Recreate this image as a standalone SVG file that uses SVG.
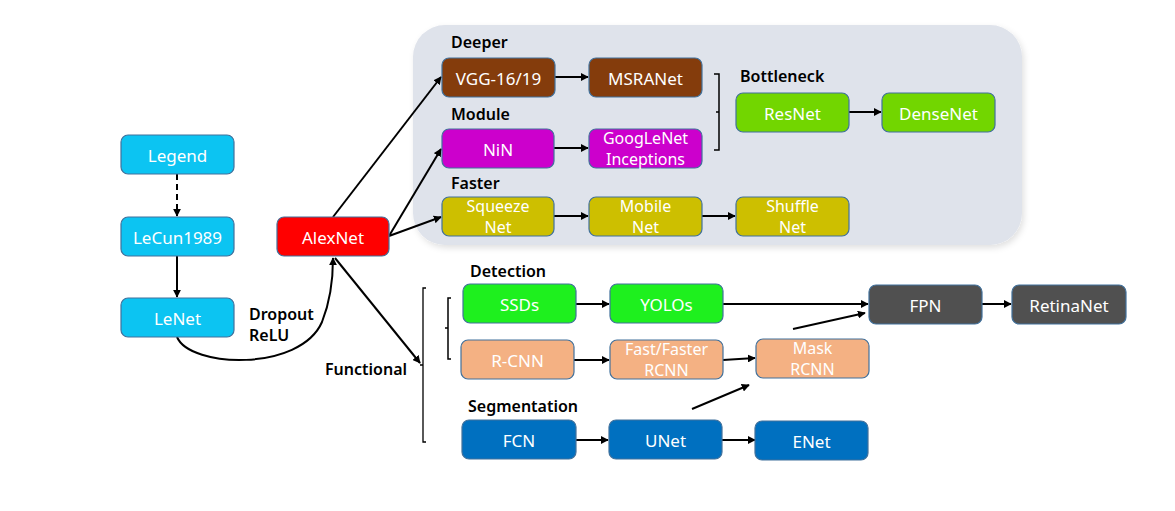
<svg xmlns="http://www.w3.org/2000/svg" width="1175" height="511" viewBox="0 0 1175 511">
<defs>
<marker id="ah" viewBox="0 0 10 10" refX="9" refY="5" markerWidth="8" markerHeight="8" markerUnits="userSpaceOnUse" orient="auto"><path d="M0,0 L10,5 L0,10 z" fill="#000"/></marker>
<filter id="sh" x="-5%" y="-5%" width="110%" height="115%"><feDropShadow dx="2" dy="3" stdDeviation="3" flood-color="#000" flood-opacity="0.12"/></filter>
<style>
.n{stroke:#41719c;stroke-width:1.2}
.t{font-family:"Noto Sans","Liberation Sans",sans-serif;font-size:17px;fill:#fff;text-anchor:middle;dominant-baseline:central}
.t2{font-size:16px}
.l{font-family:"Noto Sans","Liberation Sans",sans-serif;font-size:16px;font-weight:600;fill:#000}
.c{fill:none;stroke:#000;stroke-width:2}
.a{marker-end:url(#ah)}
</style>
</defs>
<rect width="1175" height="511" fill="#fff"/>
<rect id="panel" x="413" y="25" width="609" height="220" rx="32" fill="#dfe3eb" filter="url(#sh)"/>
<g id="labels">
<text class="l" x="451" y="48">Deeper</text>
<text class="l" x="451" y="120">Module</text>
<text class="l" x="451" y="189">Faster</text>
<text class="l" x="740" y="82">Bottleneck</text>
<text class="l" x="470" y="277">Detection</text>
<text class="l" x="468" y="412">Segmentation</text>
<text class="l" x="325" y="375">Functional</text>
<text class="l" x="249" y="320">Dropout</text>
<text class="l" x="249" y="341">ReLU</text>
</g>
<g id="connectors">
<line class="c a" x1="177" y1="174" x2="177" y2="216" stroke-dasharray="6,4"/>
<line class="c a" x1="177" y1="256" x2="177" y2="297"/>
<path class="c a" d="M177,337 C190,368 300,372 322,322 C330,302 333,278 333,258"/>
<line class="c a" x1="333" y1="217" x2="441" y2="77"/>
<line class="c a" x1="389" y1="236" x2="441" y2="149"/>
<line class="c a" x1="389" y1="236" x2="441" y2="217"/>
<line class="c a" x1="335" y1="258" x2="420" y2="363"/>
<line class="c a" x1="555" y1="77" x2="588" y2="77"/>
<line class="c a" x1="554" y1="148" x2="588" y2="148"/>
<line class="c a" x1="554" y1="216" x2="588" y2="216"/>
<line class="c a" x1="702" y1="216" x2="735" y2="216"/>
<line class="c a" x1="849" y1="112" x2="881" y2="112"/>
<line class="c a" x1="576" y1="304" x2="609" y2="304"/>
<line class="c a" x1="723" y1="304" x2="868" y2="304"/>
<line class="c a" x1="574" y1="360" x2="609" y2="360"/>
<line class="c a" x1="723" y1="360" x2="755" y2="358"/>
<line class="c a" x1="793" y1="329" x2="865" y2="313"/>
<line class="c a" x1="692" y1="409" x2="749" y2="385"/>
<line class="c a" x1="576" y1="440" x2="608" y2="440"/>
<line class="c a" x1="722" y1="440" x2="755" y2="440"/>
<line class="c a" x1="982" y1="304" x2="1011" y2="304"/>
<path d="M714,74 H719 V150 H714 M719,112 H716" fill="none" stroke="#000" stroke-width="1.5"/>
<path d="M426,288 H423 V442 H426 M423,365 H420" fill="none" stroke="#000" stroke-width="1.3"/>
<path d="M451,298 H448 V359 H451 M448,328 H445" fill="none" stroke="#000" stroke-width="1.5"/>
</g>
<g id="legend"><rect class="n" x="121" y="135" width="113" height="39" rx="7" fill="#0cc4f2"/><text class="t" x="177.5" y="155">Legend</text></g>
<g id="lecun1989"><rect class="n" x="121" y="217" width="113" height="39" rx="7" fill="#0cc4f2"/><text class="t" x="177.5" y="237">LeCun1989</text></g>
<g id="lenet"><rect class="n" x="121" y="298" width="113" height="39" rx="7" fill="#0cc4f2"/><text class="t" x="177.5" y="318">LeNet</text></g>
<g id="alexnet"><rect class="n" x="277" y="217" width="112" height="39" rx="7" fill="#ff0000"/><text class="t" x="333" y="237">AlexNet</text></g>
<g id="vgg"><rect class="n" x="442" y="58" width="113" height="39" rx="7" fill="#843c0c"/><text class="t" x="498.5" y="78">VGG-16/19</text></g>
<g id="msranet"><rect class="n" x="589" y="58" width="113" height="39" rx="7" fill="#843c0c"/><text class="t" x="645.5" y="78">MSRANet</text></g>
<g id="nin"><rect class="n" x="442" y="129" width="112" height="39" rx="7" fill="#cc00cc"/><text class="t" x="498" y="149">NiN</text></g>
<g id="googlenet"><rect class="n" x="589" y="129" width="113" height="39" rx="7" fill="#cc00cc"/><text class="t t2" x="645.5" y="138">GoogLeNet</text><text class="t t2" x="645.5" y="159">Inceptions</text></g>
<g id="squeezenet"><rect class="n" x="442" y="197" width="112" height="39" rx="7" fill="#cdbf00"/><text class="t t2" x="498" y="206">Squeeze</text><text class="t t2" x="498" y="227">Net</text></g>
<g id="mobilenet"><rect class="n" x="589" y="197" width="113" height="39" rx="7" fill="#cdbf00"/><text class="t t2" x="645.5" y="206">Mobile</text><text class="t t2" x="645.5" y="227">Net</text></g>
<g id="shufflenet"><rect class="n" x="736" y="197" width="113" height="39" rx="7" fill="#cdbf00"/><text class="t t2" x="792.5" y="206">Shuffle</text><text class="t t2" x="792.5" y="227">Net</text></g>
<g id="resnet"><rect class="n" x="736" y="93" width="113" height="39" rx="7" fill="#72d600"/><text class="t" x="792.5" y="113">ResNet</text></g>
<g id="densenet"><rect class="n" x="882" y="93" width="113" height="39" rx="7" fill="#72d600"/><text class="t" x="938.5" y="113">DenseNet</text></g>
<g id="ssds"><rect class="n" x="463" y="284" width="113" height="39" rx="7" fill="#1ef01e"/><text class="t" x="519.5" y="304">SSDs</text></g>
<g id="yolos"><rect class="n" x="610" y="284" width="113" height="39" rx="7" fill="#1ef01e"/><text class="t" x="666.5" y="304">YOLOs</text></g>
<g id="rcnn"><rect class="n" x="461" y="340" width="113" height="39" rx="7" fill="#f4b183"/><text class="t" x="517.5" y="360">R-CNN</text></g>
<g id="fastrcnn"><rect class="n" x="610" y="340" width="113" height="39" rx="7" fill="#f4b183"/><text class="t t2" x="666.5" y="349">Fast/Faster</text><text class="t t2" x="666.5" y="370">RCNN</text></g>
<g id="maskrcnn"><rect class="n" x="756" y="339" width="113" height="39" rx="7" fill="#f4b183"/><text class="t t2" x="812.5" y="348">Mask</text><text class="t t2" x="812.5" y="369">RCNN</text></g>
<g id="fpn"><rect class="n" x="869" y="285" width="113" height="39" rx="7" fill="#505050"/><text class="t" x="925.5" y="305">FPN</text></g>
<g id="retinanet"><rect class="n" x="1012" y="285" width="114" height="39" rx="7" fill="#505050"/><text class="t" x="1069" y="305">RetinaNet</text></g>
<g id="fcn"><rect class="n" x="462" y="420" width="114" height="39" rx="7" fill="#0070c0"/><text class="t" x="519" y="440">FCN</text></g>
<g id="unet"><rect class="n" x="609" y="420" width="113" height="39" rx="7" fill="#0070c0"/><text class="t" x="665.5" y="440">UNet</text></g>
<g id="enet"><rect class="n" x="755" y="421" width="113" height="39" rx="7" fill="#0070c0"/><text class="t" x="811.5" y="441">ENet</text></g>
</svg>
